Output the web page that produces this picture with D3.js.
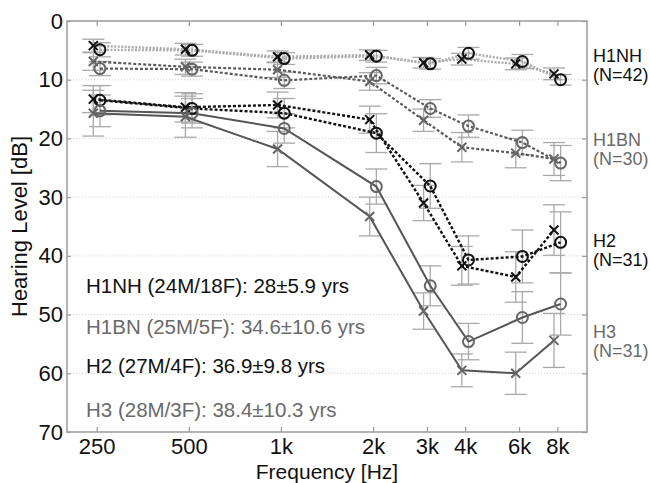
<!DOCTYPE html>
<html>
<head>
<meta charset="utf-8">
<script src="https://cdn.jsdelivr.net/npm/d3@7"></script>
<style>
  body { margin: 0; background: #fff; }
  text { font-family: "Liberation Sans", Arial, sans-serif; }
</style>
</head>
<body>
<div id="app"></div>
<script>
// frequencies (Hz) and their tick labels
const freqs = [250, 500, 1000, 2000, 3000, 4000, 6000, 8000]
const freqLabels = ["250", "500", "1k", "2k", "3k", "4k", "6k", "8k"]
const yTicks = [0, 10, 20, 30, 40, 50, 60, 70]

// hearing level means [dB], x = one ear, o = other ear
const h1nhX = [4.2, 4.8, 6.1, 5.8, 7.1, 6.5, 7.3, 9.0]
const h1nhO = [4.9, 5.0, 6.4, 6.0, 7.3, 5.5, 6.9, 10.0]
const h1bnX = [6.9, 7.8, 8.3, 10.3, 16.9, 21.5, 22.5, 23.5]
const h1bnO = [8.1, 8.2, 10.1, 9.3, 14.9, 17.9, 20.7, 24.2]
const h2X = [13.3, 14.7, 14.3, 16.8, 31.0, 41.7, 43.6, 35.6]
const h2O = [13.5, 14.9, 15.7, 19.1, 28.1, 40.7, 40.1, 37.7]
const h3X = [15.7, 16.3, 21.8, 33.3, 49.4, 59.5, 60.0, 54.4]
const h3O = [15.3, 15.7, 18.3, 28.2, 45.1, 54.6, 50.5, 48.2]

// error bar half lengths [dB]
const h1nhXsd = [1.1, 1.0, 1.0, 0.9, 0.9, 1.0, 1.0, 1.0]
const h1nhOsd = [1.2, 1.0, 1.0, 1.0, 0.9, 1.0, 1.2, 0.9]
const h1bnXsd = [1.5, 1.3, 1.3, 1.5, 1.9, 2.5, 2.5, 2.8]
const h1bnOsd = [1.2, 1.2, 1.4, 1.4, 1.5, 1.9, 2.1, 3.0]
const h2Xsd = [2.3, 2.5, 2.2, 2.3, 3.0, 3.3, 4.3, 4.3]
const h2Osd = [2.5, 2.5, 2.5, 3.3, 3.8, 4.1, 4.5, 5.2]
const h3Xsd = [3.9, 3.5, 3.0, 3.3, 3.1, 2.8, 3.6, 4.6]
const h3Osd = [2.7, 2.5, 2.5, 3.0, 3.4, 3.1, 4.4, 5.3]

const groupNames = ["H1NH", "H1BN", "H2", "H3"]
const groupN = [42, 30, 31, 31]
const groupInfo = [
  "H1NH (24M/18F): 28\u00b15.9 yrs",
  "H1BN (25M/5F): 34.6\u00b110.6 yrs",
  "H2 (27M/4F): 36.9\u00b19.8 yrs",
  "H3 (28M/3F): 38.4\u00b110.3 yrs"
]

const width = 650
const height = 483
const marginLeft = 67
const marginRight = 63
const marginTop = 21
const marginBottom = 51

const gray = "#6a6a6a"
const styles = [
  {line: "#ababab", dash: "2,1.5", lw: 2.4, mark: "#111", text: "#111"},
  {line: "#5a5a5a", dash: "3,2", lw: 2.2, mark: "#666", text: gray},
  {line: "#111", dash: "3,2", lw: 2.4, mark: "#111", text: "#111"},
  {line: "#555", dash: null, lw: 2, mark: "#666", text: gray}
]

const series = [
  [h1nhX, h1nhXsd, 0, "x"], [h1nhO, h1nhOsd, 0, "o"],
  [h1bnX, h1bnXsd, 1, "x"], [h1bnO, h1bnOsd, 1, "o"],
  [h2X, h2Xsd, 2, "x"], [h2O, h2Osd, 2, "o"],
  [h3X, h3Xsd, 3, "x"], [h3O, h3Osd, 3, "o"]
]

const x = d3.scaleLog()
  .domain([200, 10000])
  .range([marginLeft, width - marginRight])

const y = d3.scaleLinear()
  .domain([0, 70])
  .range([marginTop, height - marginBottom])

// x markers slightly left, o markers slightly right
const shift = {x: 0.975, o: 1.025}

const svg = d3.select('#app')
  .append('svg')
  .attr('width', width)
  .attr('height', height)

// horizontal grid
svg.append('g')
  .selectAll('line')
  .data(yTicks.slice(1, -1))
  .join('line')
  .attr('x1', marginLeft).attr('x2', width - marginRight)
  .attr('y1', d => y(d)).attr('y2', d => y(d))
  .attr('stroke', '#cfcfcf')
  .attr('stroke-width', 1)
  .attr('stroke-dasharray', '1,2')

// axes
const axisStyle = g => {
  g.select('.domain').remove()
  g.selectAll('.tick line').attr('stroke', '#999').attr('stroke-width', 1.2)
  g.selectAll('.tick text').attr('fill', '#111').style('font-size', '22px')
    .style('font-family', '"Liberation Sans", Arial, sans-serif')
}

svg.append('g')
  .attr('transform', `translate(0,${height - marginBottom})`)
  .call(d3.axisBottom(x).tickValues(freqs).tickFormat((d, i) => freqLabels[i]).tickSize(-5).tickPadding(6))
  .call(axisStyle)

svg.append('g')
  .attr('transform', `translate(0,${marginTop})`)
  .call(d3.axisTop(x).tickValues(freqs).tickFormat('').tickSize(-5))
  .call(axisStyle)

svg.append('g')
  .attr('transform', `translate(${marginLeft},0)`)
  .call(d3.axisLeft(y).tickValues(yTicks).tickSize(-4).tickPadding(4))
  .call(axisStyle)

svg.append('g')
  .attr('transform', `translate(${width - marginRight},0)`)
  .call(d3.axisRight(y).tickValues(yTicks).tickFormat('').tickSize(-5))
  .call(axisStyle)

svg.append('rect')
  .attr('x', marginLeft).attr('y', marginTop)
  .attr('width', width - marginLeft - marginRight)
  .attr('height', height - marginTop - marginBottom)
  .attr('fill', 'none')
  .attr('stroke', '#9a9a9a')
  .attr('stroke-width', 1.5)

// error bars
const bars = svg.append('g').attr('stroke', '#a9a9a9').attr('stroke-width', 1.3).attr('fill', 'none')
series.forEach(([vals, sd, gi, kind]) => {
  vals.forEach((v, i) => {
    const cx = x(freqs[i] * shift[kind])
    const y1 = y(v - sd[i]), y2 = y(v + sd[i])
    bars.append('line').attr('x1', cx).attr('x2', cx).attr('y1', y1).attr('y2', y2)
    bars.append('line').attr('x1', cx - 11).attr('x2', cx + 11).attr('y1', y1).attr('y2', y1)
    bars.append('line').attr('x1', cx - 11).attr('x2', cx + 11).attr('y1', y2).attr('y2', y2)
  })
})

// lines
const line = kind => d3.line()
  .x((d, i) => x(freqs[i] * shift[kind]))
  .y(d => y(d))

series.forEach(([vals, sd, gi, kind]) => {
  const st = styles[gi]
  svg.append('path')
    .datum(vals)
    .attr('d', line(kind))
    .attr('fill', 'none')
    .attr('stroke', st.line)
    .attr('stroke-width', st.lw)
    .attr('stroke-dasharray', st.dash)
})

// markers
series.forEach(([vals, sd, gi, kind]) => {
  const st = styles[gi]
  const g = svg.append('g').attr('stroke', st.mark).attr('stroke-width', 2).attr('fill', 'none')
  vals.forEach((v, i) => {
    const cx = x(freqs[i] * shift[kind]), cy = y(v)
    if (kind === 'o') {
      g.append('circle').attr('cx', cx).attr('cy', cy).attr('r', 5.5)
    } else {
      const s = 4.5
      g.append('path').attr('d', `M${cx - s},${cy - s}L${cx + s},${cy + s}M${cx - s},${cy + s}L${cx + s},${cy - s}`)
    }
  })
})

// group info text inside plot
const infoBase = [293, 334, 373, 417]
groupInfo.forEach((t, i) => {
  svg.append('text')
    .attr('x', 86).attr('y', infoBase[i])
    .attr('fill', styles[i].text)
    .style('font-size', '20.5px')
    .text(t)
})

// group labels on the right
const labelBase = [62, 146, 247, 338]
groupNames.forEach((name, i) => {
  const t = svg.append('text')
    .attr('x', width - marginRight + 6)
    .attr('y', labelBase[i])
    .attr('fill', styles[i].text)
    .style('font-size', '18px')
  t.append('tspan').text(name)
  t.append('tspan').attr('x', width - marginRight + 6).attr('dy', 19).text(`(N=${groupN[i]})`)
})

// axis titles
svg.append('text')
  .attr('x', (marginLeft + width - marginRight) / 2)
  .attr('y', 478.5)
  .attr('text-anchor', 'middle')
  .attr('fill', '#111')
  .style('font-size', '21px')
  .text('Frequency [Hz]')

svg.append('text')
  .attr('transform', `translate(27,${(marginTop + height - marginBottom) / 2}) rotate(-90)`)
  .attr('text-anchor', 'middle')
  .attr('fill', '#111')
  .style('font-size', '22px')
  .text('Hearing Level [dB]')
</script>
</body>
</html>
